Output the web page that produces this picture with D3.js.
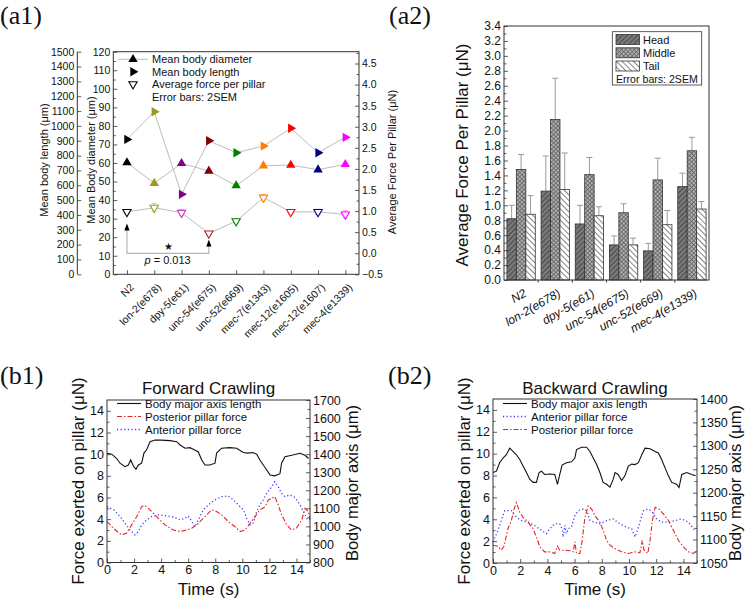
<!DOCTYPE html>
<html><head><meta charset="utf-8">
<script src="https://cdn.jsdelivr.net/npm/d3@7"></script>
<style>body{margin:0;background:#fff;} svg{display:block;}</style>
</head><body>
<svg id="c" width="745" height="600" xmlns="http://www.w3.org/2000/svg"></svg>
<script>
// ---------------- DATA ----------------
// (a1)
const strainsA1 = ["N2","lon-2(e678)","dpy-5(e61)","unc-54(e675)","unc-52(e669)","mec-7(e1343)","mec-12(e1605)","mec-12(e1607)","mec-4(e1339)"];
const bodyDiameter = [60.2, 49.1, 59.8, 55.7, 47.8, 58.5, 58.9, 56.4, 59.3];
const bodyLength = [909, 1095, 539, 900, 819, 864, 984, 819, 923];
const avgForce = [0.98, 1.08, 0.96, 0.47, 0.76, 1.32, 0.98, 0.98, 0.92];
const avgForceErr = [0.05, 0.10, 0.07, 0.04, 0.05, 0.08, 0.05, 0.06, 0.09];
const strainColors = ["#000000","#9a9a1e","#800080","#800000","#008000","#ff8000","#ff0000","#000080","#ff00ff"];
const forceColors = ["#000000","#9a9a1e","#c040c0","#b02020","#008000","#ff8000","#ff0000","#000080","#ff00ff"];
const lengthTicks = [0,100,200,300,400,500,600,700,800,900,1000,1100,1200,1300,1400,1500];
const diameterTicks = [0,10,20,30,40,50,60,70,80,90,100,110,120];
const forceTicksA1 = [-0.5,0,0.5,1,1.5,2,2.5,3,3.5,4,4.5];
// (a2)
const strainsA2 = ["N2","lon-2(e678)","dpy-5(e61)","unc-54(e675)","unc-52(e669)","mec-4(e1339)"];
const segments = ["Head","Middle","Tail"];
const headForce = [0.82, 1.19, 0.75, 0.47, 0.39, 1.25];
const middleForce = [1.48, 2.15, 1.41, 0.90, 1.34, 1.73];
const tailForce = [0.88, 1.21, 0.86, 0.47, 0.74, 0.95];
const headErr = [0.18, 0.47, 0.25, 0.12, 0.10, 0.18];
const middleErr = [0.20, 0.55, 0.23, 0.12, 0.29, 0.18];
const tailErr = [0.25, 0.49, 0.12, 0.09, 0.19, 0.10];
const forceTicksA2 = [0,0.2,0.4,0.6,0.8,1.0,1.2,1.4,1.6,1.8,2.0,2.2,2.4,2.6,2.8,3.0,3.2,3.4];
// (b1) forward crawling
const b1BodyT = [0,0.35,0.72,0.96,1.33,1.58,1.75,1.95,2.14,2.32,2.56,2.73,2.93,3.18,3.55,4.0,4.66,5.15,5.4,5.77,6.13,6.37,6.75,7.0,7.24,7.6,7.98,8.1,8.47,9.08,9.58,10.07,10.4,10.78,11.06,11.3,11.55,11.8,12.05,12.4,12.78,12.9,13.15,13.65,14.26,14.63,14.9];
const b1BodyV = [1405,1400,1376,1350,1331,1340,1368,1334,1316,1340,1350,1406,1424,1469,1478,1478,1475,1469,1451,1433,1436,1427,1412,1368,1340,1340,1350,1406,1433,1436,1433,1409,1406,1409,1400,1368,1340,1312,1285,1280,1292,1350,1386,1394,1405,1394,1376];
const b1PostT = [0,0.37,0.74,1.08,1.45,1.82,2.2,2.56,2.8,3.18,3.67,4.29,4.9,5.4,5.89,6.26,6.63,7.0,7.36,7.74,8.1,8.47,8.96,9.46,9.83,10.2,10.57,10.94,11.3,11.7,11.92,12.17,12.4,12.65,12.9,13.28,13.65,14.0,14.4,14.63,14.88,15.0];
const b1PostV = [3.78,3.3,2.86,2.55,2.7,3.47,4.24,5.16,5.25,4.86,4.24,3.47,3.0,2.86,3.0,3.17,3.47,3.94,4.4,4.86,4.7,4.4,3.78,3.3,2.86,3.0,3.63,4.24,4.86,5.16,5.78,5.93,6.08,5.32,4.4,3.47,3.0,3.17,3.94,5.0,4.7,3.94];
const b1AntT = [0,0.5,0.97,1.33,1.7,2.07,2.32,2.56,2.93,3.3,3.8,4.41,4.9,5.4,5.77,6.0,6.26,6.5,6.75,7.12,7.49,7.98,8.47,8.96,9.34,9.7,10.08,10.32,10.57,10.8,11.06,11.3,11.55,11.8,12.17,12.4,12.65,12.9,13.15,13.5,13.9,14.26,14.63,14.88];
const b1AntV = [5.16,4.86,4.24,3.63,3.0,2.55,2.86,3.47,3.94,4.24,4.4,4.3,4.2,3.94,4.09,4.3,3.78,3.3,3.94,4.86,5.32,5.78,6.08,6.14,5.78,5.32,4.86,4.09,3.47,3.63,4.7,5.32,5.78,6.39,7.0,7.46,7.0,6.39,6.08,6.24,6.0,5.32,4.4,3.78];
// (b2) backward crawling
const b2BodyT = [0,0.25,0.49,0.74,0.98,1.23,1.47,1.72,1.97,2.21,2.46,2.7,2.95,3.19,3.39,3.56,3.8,4.17,4.54,4.74,4.91,5.08,5.4,5.77,6.02,6.14,6.51,6.88,7.13,7.37,7.62,7.86,8.1,8.35,8.6,8.84,8.97,9.2,9.46,9.7,9.95,10.2,10.44,10.69,10.94,11.18,11.55,11.92,12.16,12.4,12.65,12.9,13.14,13.5,13.68,13.88,14.25,14.6,14.9];
const b2BodyV = [1243,1246,1264,1274,1281,1295,1288,1281,1271,1257,1243,1229,1222,1222,1243,1246,1239,1240,1239,1218,1239,1259,1264,1266,1274,1292,1297,1297,1288,1274,1260,1243,1222,1218,1212,1229,1243,1239,1226,1236,1257,1261,1260,1264,1281,1295,1294,1288,1285,1271,1253,1236,1222,1218,1211,1239,1243,1239,1236];
const b2AntT = [0,0.37,0.61,0.86,1.35,1.72,2.09,2.58,3.07,3.56,3.93,4.17,4.54,4.91,5.08,5.16,5.28,5.4,5.53,5.77,6.02,6.27,6.63,6.88,7.13,7.49,7.86,8.35,8.84,9.33,9.82,10.2,10.44,10.69,11.06,11.43,11.67,12.04,12.4,12.9,13.39,13.88,14.37,14.86];
const b2AntV = [1.93,2.98,3.88,4.79,4.79,4.18,3.88,3.73,3.43,2.98,2.68,3.13,3.58,3.58,3.13,2.38,3.43,2.68,3.13,3.28,4.34,4.79,4.94,4.79,3.88,3.73,3.58,3.88,4.03,3.58,3.28,3.13,2.38,3.28,4.79,4.94,4.73,4.03,3.73,3.73,3.88,4.03,3.73,2.98];
const b2PostT = [0,0.37,0.61,0.81,1.1,1.35,1.55,1.72,1.97,2.21,2.58,2.95,3.19,3.44,3.8,4.17,4.54,4.74,4.91,5.28,5.65,5.9,6.02,6.14,6.39,6.56,6.76,7.0,7.25,7.49,7.86,8.1,8.35,8.6,8.97,9.46,9.95,10.44,10.8,10.98,11.1,11.38,11.55,11.72,11.92,12.2,12.53,12.9,13.27,13.63,14.0,14.37,14.74,14.9];
const b2PostV = [1.63,1.53,1.17,1.53,3.13,3.88,4.94,5.54,4.64,4.18,3.73,3.13,2.38,1.47,1.02,1.02,0.87,1.53,1.17,1.17,1.12,1.02,1.93,0.87,0.87,2.08,4.18,5.24,4.94,4.34,3.73,2.98,2.08,1.63,1.32,1.02,0.87,1.02,0.93,2.08,1.17,0.87,2.08,3.88,5.09,4.94,4.49,3.88,2.98,2.08,1.47,1.02,0.87,1.02];
const timeTicks = [0,2,4,6,8,10,12,14];
const forceTicksB = [0,2,4,6,8,10,12,14];

// ---------------- HELPERS ----------------
const FONT = "'Liberation Sans', Arial, sans-serif";
const SERIF = "'Liberation Serif', 'Times New Roman', serif";
const svg = d3.select("#c");

function axis(gen, scale, tx, ty, majors, minors, fmt, fs, majLen, minLen) {
  const g = svg.append("g").attr("transform", `translate(${tx},${ty})`);
  g.call(gen(scale).tickValues(majors).tickFormat(fmt).tickSizeInner(-(majLen||5)).tickSizeOuter(0).tickPadding(3));
  if (minors) g.append("g").call(gen(scale).tickValues(minors).tickFormat("").tickSizeInner(-(minLen||3)).tickSizeOuter(0));
  g.selectAll(".domain").remove();
  g.selectAll("text").attr("font-size", fs).attr("font-family", FONT).attr("fill", "#111");
  g.selectAll("line").attr("stroke", "#333").attr("stroke-width", 0.8);
  return g;
}
function frame(p) {
  svg.append("rect").attr("x", p.l).attr("y", p.t).attr("width", p.r - p.l).attr("height", p.b - p.t)
    .attr("fill", "none").attr("stroke", "#333").attr("stroke-width", 1);
}
function vlabel(x, y, txt, fs) {
  svg.append("text").attr("transform", `translate(${x},${y}) rotate(-90)`).attr("text-anchor", "middle")
    .attr("dy", "0.35em").attr("font-size", fs).attr("font-family", FONT).attr("fill", "#111").text(txt);
}
function text(x, y, txt, fs, anchor, fam) {
  return svg.append("text").attr("x", x).attr("y", y).attr("text-anchor", anchor || "start")
    .attr("font-size", fs).attr("font-family", fam || FONT).attr("fill", "#111").text(txt);
}
const fmt1 = d3.format(".1f");

// ---------------- PANEL LABELS ----------------
text(0, 24, "(a1)", 26, "start", SERIF);
text(389, 24, "(a2)", 26, "start", SERIF);
text(0, 384, "(b1)", 26, "start", SERIF);
text(388, 384, "(b2)", 26, "start", SERIF);

// ---------------- (a1) ----------------
{
  const p = {l: 113.3, r: 359, t: 51.7, b: 274.3};
  const x = d3.scalePoint().domain(strainsA1).range([p.l, p.r]).padding(0.5);
  const yLen = d3.scaleLinear().domain([0, 1500]).range([p.b, p.t]);
  const yDia = d3.scaleLinear().domain([0, 120]).range([p.b, p.t]);
  const yF = d3.scaleLinear().domain([-0.5, 4.78]).range([p.b, p.t]);
  frame(p);
  svg.append("line").attr("x1", 77.3).attr("x2", 77.3).attr("y1", p.t).attr("y2", p.b).attr("stroke", "#333");
  axis(d3.axisLeft, yLen, 77.3, 0, lengthTicks, null, d3.format("d"), 10.5, 4);
  axis(d3.axisLeft, yDia, p.l, 0, diameterTicks, d3.range(5, 120, 10), d3.format("d"), 10.5, 4, 2.5);
  axis(d3.axisRight, yF, p.r, 0, forceTicksA1, d3.range(-0.25, 4.76, 0.5), fmt1, 10.5, 4, 2.5);
  axis(d3.axisBottom, x, 0, p.b, strainsA1, null, "", 10.5, 4);
  strainsA1.forEach(s => {
    svg.append("text").attr("transform", `translate(${x(s) + 5},${p.b + 11}) rotate(-45)`)
      .attr("text-anchor", "end").attr("dy", "0.35em").attr("font-size", 10.5).attr("font-family", FONT)
      .attr("fill", "#111").text(s);
  });
  vlabel(44, 160, "Mean body length (μm)", 11);
  vlabel(91, 160, "Mean Body diameter (μm)", 11);
  vlabel(392, 162, "Average Force Per Pillar (μN)", 11);

  const line = (arr, sc) => d3.line().x((d, i) => x(strainsA1[i])).y(d => sc(d))(arr);
  [[bodyDiameter, yDia], [bodyLength, yLen], [avgForce, yF]].forEach(([arr, sc]) => {
    svg.append("path").attr("d", line(arr, sc)).attr("fill", "none").attr("stroke", "#bdbdbd").attr("stroke-width", 1);
  });
  avgForce.forEach((v, i) => {
    const cx = x(strainsA1[i]);
    const g = svg.append("g").attr("stroke", forceColors[i]).attr("stroke-opacity", 0.45).attr("stroke-width", 1);
    g.append("line").attr("x1", cx).attr("x2", cx).attr("y1", yF(v - avgForceErr[i])).attr("y2", yF(v + avgForceErr[i]));
    g.append("line").attr("x1", cx - 2.5).attr("x2", cx + 2.5).attr("y1", yF(v + avgForceErr[i])).attr("y2", yF(v + avgForceErr[i]));
    g.append("line").attr("x1", cx - 2.5).attr("x2", cx + 2.5).attr("y1", yF(v - avgForceErr[i])).attr("y2", yF(v - avgForceErr[i]));
  });
  const tri = d3.symbol(d3.symbolTriangle, 38)();
  bodyDiameter.forEach((v, i) => {
    svg.append("path").attr("d", tri).attr("transform", `translate(${x(strainsA1[i])},${yDia(v)})`).attr("fill", strainColors[i]);
  });
  bodyLength.forEach((v, i) => {
    svg.append("path").attr("d", tri).attr("transform", `translate(${x(strainsA1[i])},${yLen(v)}) rotate(90)`).attr("fill", strainColors[i]);
  });
  avgForce.forEach((v, i) => {
    svg.append("path").attr("d", d3.symbol(d3.symbolTriangle, 30)()).attr("transform", `translate(${x(strainsA1[i])},${yF(v)}) rotate(180)`)
      .attr("fill", "#fff").attr("stroke", forceColors[i]).attr("stroke-width", 1.1);
  });
  const xa = x(strainsA1[0]), xb = x(strainsA1[3]);
  svg.append("path").attr("d", `M${xa},${228} V${253.3} H${xb} V${244}`).attr("fill", "none").attr("stroke", "#b5b5b5").attr("stroke-width", 1.2);
  [[xa, 223.5], [xb, 239.5]].forEach(([ax, ay]) => {
    svg.append("path").attr("d", `M${ax},${ay} l-2.6,7 h5.2 z`).attr("fill", "#000");
  });
  text(168.3, 250, "★", 10, "middle");
  const pt = text(144.5, 264, "", 11);
  pt.append("tspan").attr("font-style", "italic").text("p");
  pt.append("tspan").text(" = 0.013");
  svg.append("line").attr("x1", 118).attr("x2", 148).attr("y1", 59.3).attr("y2", 59.3).attr("stroke", "#bdbdbd");
  svg.append("path").attr("d", tri).attr("transform", "translate(133,59.3)").attr("fill", "#000");
  svg.append("path").attr("d", tri).attr("transform", "translate(133,71.7) rotate(90)").attr("fill", "#000");
  svg.append("path").attr("d", d3.symbol(d3.symbolTriangle, 30)()).attr("transform", "translate(133,84.2) rotate(180)").attr("fill", "#fff").attr("stroke", "#000").attr("stroke-width", 1.1);
  ["Mean body diameter", "Mean body length", "Average force per pillar", "Error bars: 2SEM"].forEach((t, i) => {
    text(152, [59.3, 71.7, 84.2, 97.3][i] + 4, t, 11);
  });
}

// ---------------- (a2) ----------------
{
  const defs = svg.append("defs");
  const pHead = defs.append("pattern").attr("id", "pHead").attr("patternUnits", "userSpaceOnUse").attr("width", 3.6).attr("height", 3.6).attr("patternTransform", "rotate(45)");
  pHead.append("rect").attr("width", 3.6).attr("height", 3.6).attr("fill", "#7a7a7a");
  pHead.append("line").attr("x1", 0.5).attr("x2", 0.5).attr("y1", 0).attr("y2", 3.6).attr("stroke", "#4a4a4a").attr("stroke-width", 1.2);
  const pMid = defs.append("pattern").attr("id", "pMid").attr("patternUnits", "userSpaceOnUse").attr("width", 3).attr("height", 3).attr("patternTransform", "rotate(45)");
  pMid.append("rect").attr("width", 3).attr("height", 3).attr("fill", "#b4b4b4");
  pMid.append("line").attr("x1", 0.4).attr("x2", 0.4).attr("y1", 0).attr("y2", 3).attr("stroke", "#555").attr("stroke-width", 0.8);
  pMid.append("line").attr("y1", 0.4).attr("y2", 0.4).attr("x1", 0).attr("x2", 3).attr("stroke", "#555").attr("stroke-width", 0.8);
  const pTail = defs.append("pattern").attr("id", "pTail").attr("patternUnits", "userSpaceOnUse").attr("width", 4).attr("height", 4).attr("patternTransform", "rotate(-45)");
  pTail.append("rect").attr("width", 4).attr("height", 4).attr("fill", "#fff");
  pTail.append("line").attr("x1", 0.5).attr("x2", 0.5).attr("y1", 0).attr("y2", 4).attr("stroke", "#777").attr("stroke-width", 0.9);
  const fills = ["url(#pHead)", "url(#pMid)", "url(#pTail)"];

  const p = {l: 504, r: 709, t: 26, b: 280};
  const x0 = d3.scaleBand().domain(strainsA2).range([p.l, p.r]).paddingInner(0.17).paddingOuter(0.085);
  const x1 = d3.scaleBand().domain(segments).range([0, x0.bandwidth()]);
  const y = d3.scaleLinear().domain([0, 3.4]).range([p.b, p.t]);
  const vals = [headForce, middleForce, tailForce];
  const errs = [headErr, middleErr, tailErr];
  strainsA2.forEach((s, i) => {
    segments.forEach((seg, j) => {
      const bx = x0(s) + x1(seg), v = vals[j][i], e = errs[j][i];
      const cx = bx + x1.bandwidth() / 2;
      svg.append("line").attr("x1", cx).attr("x2", cx).attr("y1", y(v)).attr("y2", y(v + e)).attr("stroke", "#9a9a9a").attr("stroke-width", 1);
      svg.append("line").attr("x1", cx - 3).attr("x2", cx + 3).attr("y1", y(v + e)).attr("y2", y(v + e)).attr("stroke", "#9a9a9a").attr("stroke-width", 1);
      svg.append("rect").attr("x", bx).attr("y", y(v)).attr("width", x1.bandwidth()).attr("height", y(0) - y(v))
        .attr("fill", fills[j]).attr("stroke", "#333").attr("stroke-width", 0.8);
    });
  });
  frame(p);
  axis(d3.axisLeft, y, p.l, 0, forceTicksA2, d3.range(0.1, 3.4, 0.2), fmt1, 12, 4, 2.5);
  const sep = d3.range(1, strainsA2.length).map(k => (x0(strainsA2[k - 1]) + x0.bandwidth() + x0(strainsA2[k])) / 2);
  sep.forEach(sx => svg.append("line").attr("x1", sx).attr("x2", sx).attr("y1", p.b).attr("y2", p.b + 2.5).attr("stroke", "#333"));
  strainsA2.forEach(s => {
    svg.append("text").attr("transform", `translate(${x0(s) + x0.bandwidth() / 2 + 4},${p.b + 12}) rotate(-30)`)
      .attr("text-anchor", "end").attr("dy", "0.35em").attr("font-size", 12).attr("font-style", "italic")
      .attr("font-family", FONT).attr("fill", "#111").text(s);
  });
  vlabel(462, 155, "Average Force Per Pillar (μN)", 17);
  svg.append("rect").attr("x", 612.3).attr("y", 31.7).attr("width", 89.4).attr("height", 53.3).attr("fill", "#fff").attr("stroke", "#333").attr("stroke-width", 0.8);
  segments.forEach((seg, j) => {
    const ly = [39.5, 52.8, 66][j];
    svg.append("rect").attr("x", 616).attr("y", ly - 5).attr("width", 23.5).attr("height", 10).attr("fill", fills[j]).attr("stroke", "#333").attr("stroke-width", 0.8);
    text(643, ly + 4, seg, 11);
  });
  text(616, 83.3, "Error bars: 2SEM", 10.6);
}

// ---------------- (b1), (b2) ----------------
function timePanel(p, title, rDomain, rMajor, rMinor, series, legend, rLabelX) {
  const x = d3.scaleLinear().domain([0, 15]).range([p.l, p.r]);
  const yL = d3.scaleLinear().domain([0, 15]).range([p.b, p.t]);
  const yR = d3.scaleLinear().domain(rDomain).range([p.b, p.t]);
  series.forEach(s => {
    const sc = s.right ? yR : yL;
    svg.append("path").attr("d", d3.line().x((d, i) => x(s.t[i])).y(d => sc(d))(s.v))
      .attr("fill", "none").attr("stroke", s.color).attr("stroke-width", s.w).attr("stroke-dasharray", s.dash);
  });
  frame(p);
  axis(d3.axisLeft, yL, p.l, 0, forceTicksB, d3.range(1, 15, 2), d3.format("d"), 12.5, 4, 2.5);
  axis(d3.axisRight, yR, p.r, 0, rMajor, rMinor, d3.format("d"), 12.5, 4, 2.5);
  axis(d3.axisBottom, x, 0, p.b, timeTicks, d3.range(1, 16, 2), d3.format("d"), 12.5, 4, 2.5);
  text((p.l + p.r) / 2, 394, title, 17, "middle");
  text((p.l + p.r) / 2, 595, "Time (s)", 17, "middle");
  vlabel(p.l - 29, 481, "Force exerted on pillar (μN)", 17);
  vlabel(rLabelX, 483, "Body major axis (μm)", 16.5);
  legend.forEach((s, i) => {
    const ly = [403.5, 416.5, 429.5][i];
    svg.append("line").attr("x1", p.l + 10).attr("x2", p.l + 34).attr("y1", ly).attr("y2", ly)
      .attr("stroke", s.color).attr("stroke-width", s.w).attr("stroke-dasharray", s.dash);
    text(p.l + 38, ly + 4, s.name, 11.5);
  });
}
const bodyStyle = {color: "#111", w: 1.1, dash: null};
const postStyle = {color: "#e3242b", w: 1.1, dash: "5,2,1.5,2"};
const antStyle = {color: "#3a3aff", w: 1.3, dash: "1.2,2.4"};
{
  const body = Object.assign({t: b1BodyT, v: b1BodyV, right: true, name: "Body major axis length"}, bodyStyle);
  const post = Object.assign({t: b1PostT, v: b1PostV, name: "Posterior pillar force"}, postStyle);
  const ant = Object.assign({t: b1AntT, v: b1AntV, name: "Anterior pillar force"}, antStyle);
  timePanel({l: 107, r: 310, t: 400, b: 562.5}, "Forward Crawling", [800, 1700],
    d3.range(800, 1701, 100), d3.range(850, 1700, 100), [ant, post, body], [body, post, ant], 352);
}
{
  const body = Object.assign({t: b2BodyT, v: b2BodyV, right: true, name: "Body major axis length"}, bodyStyle);
  const ant = Object.assign({t: b2AntT, v: b2AntV, name: "Anterior pillar force"}, antStyle);
  const post = Object.assign({t: b2PostT, v: b2PostV, name: "Posterior pillar force"}, postStyle);
  timePanel({l: 493, r: 697, t: 399, b: 563}, "Backward Crawling", [1050, 1400],
    d3.range(1050, 1401, 50), d3.range(1075, 1400, 50), [ant, post, body], [body, ant, post], 735.5);
}
</script>
</body></html>
